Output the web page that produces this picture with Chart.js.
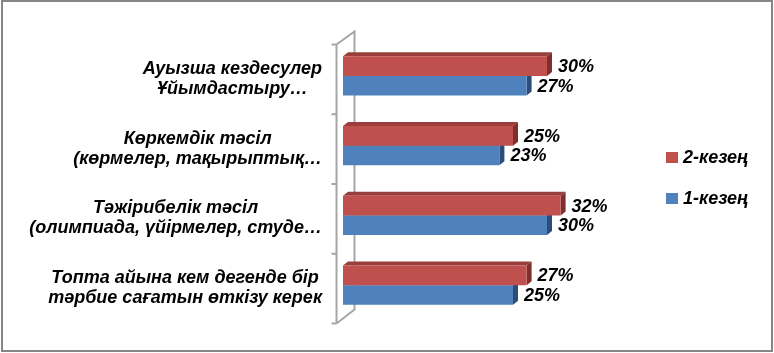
<!DOCTYPE html>
<html lang="kk">
<head>
<meta charset="utf-8">
<title>Тәрбие жұмысының әдістері</title>
<script src="https://cdn.jsdelivr.net/npm/chart.js@4.4.0/dist/chart.umd.min.js"></script>
<style>
  html, body { margin: 0; padding: 0; background: #fff; }
  canvas { display: block; }
</style>
</head>
<body>
<canvas id="myChart" width="774" height="353"></canvas>
<script>
// categories, top to bottom (each label already wrapped into two lines)
const categories = [
  ['Ауызша кездесулер', 'Ұйымдастыру…'],
  ['Көркемдік тәсіл', '(көрмелер, тақырыптық…'],
  ['Тәжірибелік тәсіл', '(олимпиада, үйірмелер, студе…'],
  ['Топта айына кем дегенде бір', 'тәрбие сағатын өткізу керек']
];
const seriesNames = ['2-кезең', '1-кезең'];
const stage2 = [30, 25, 32, 27];
const stage1 = [27, 23, 30, 25];

const FONT = 'bold italic 18px "Liberation Sans", Arial, sans-serif';
const faces = [
  { front: '#C0504D', top: '#9A3E3B', side: '#7F302E' },
  { front: '#4F81BD', top: '#3C6698', side: '#2C4D75' }
];
const DX = 5, DY = 4;

// 3d wall, bar depth, labels and legend
const excelLook = {
  id: 'excelLook',
  beforeDatasetsDraw(chart) {
    const ctx = chart.ctx;
    const y = chart.scales.y;
    const n = chart.data.labels.length;
    const step = (y.bottom - y.top) / n;
    const fx = 336.5, bx = 354.5, off = 3.5;
    ctx.save();
    ctx.strokeStyle = '#A6A6A6';
    ctx.lineWidth = 2;
    ctx.beginPath();
    ctx.moveTo(fx, y.top + off);
    ctx.lineTo(fx, y.bottom + off);
    ctx.moveTo(fx, y.top + off);
    ctx.lineTo(bx, y.top + off - 13);
    ctx.lineTo(bx, y.bottom + off - 14);
    ctx.lineTo(fx, y.bottom + off);
    for (let i = 0; i <= n; i++) {
      const ty = y.top + off + i * step;
      ctx.moveTo(fx - 5, ty);
      ctx.lineTo(fx, ty);
    }
    ctx.stroke();

    chart.data.datasets.forEach((ds, di) => {
      const meta = chart.getDatasetMeta(di);
      meta.data.forEach(el => {
        const L = el.base, R = el.x;
        const T = el.y - el.height / 2, B = el.y + el.height / 2;
        ctx.fillStyle = faces[di].top;
        ctx.beginPath();
        ctx.moveTo(L, T);
        ctx.lineTo(L + DX, T - DY);
        ctx.lineTo(R + DX, T - DY);
        ctx.lineTo(R, T);
        ctx.closePath();
        ctx.fill();
        ctx.fillStyle = faces[di].side;
        ctx.beginPath();
        ctx.moveTo(R, T);
        ctx.lineTo(R + DX, T - DY);
        ctx.lineTo(R + DX, B - DY);
        ctx.lineTo(R, B);
        ctx.closePath();
        ctx.fill();
      });
    });
    ctx.restore();
  },
  afterDatasetsDraw(chart) {
    const ctx = chart.ctx;
    ctx.save();
    ctx.font = FONT;
    ctx.fillStyle = '#000';
    ctx.textAlign = 'left';
    ctx.textBaseline = 'middle';
    chart.data.datasets.forEach((ds, di) => {
      chart.getDatasetMeta(di).data.forEach((el, i) => {
        ctx.fillText(ds.data[i] + '%', el.x + 11, el.y + 1);
      });
    });
    ctx.restore();
  },
  afterDraw(chart) {
    const ctx = chart.ctx;
    const y = chart.scales.y;
    ctx.save();
    ctx.font = FONT;
    ctx.fillStyle = '#000';
    ctx.textAlign = 'center';
    ctx.textBaseline = 'middle';
    const rightEdge = 322;
    chart.data.labels.forEach((lab, i) => {
      const cy = y.getPixelForValue(i) + 3;
      const w = Math.max(...lab.map(s => ctx.measureText(s).width));
      const cx = rightEdge - w / 2;
      lab.forEach((s, k) => {
        ctx.fillText(s, cx, cy + (k - (lab.length - 1) / 2) * 20);
      });
    });

    // legend
    ctx.textAlign = 'left';
    chart.data.datasets.forEach((ds, di) => {
      const ly = 157.5 + di * 41;
      ctx.fillStyle = ds.backgroundColor;
      ctx.fillRect(666, ly - 5.5, 12, 11);
      ctx.fillStyle = '#000';
      ctx.fillText(ds.label, 683, ly + 1);
    });

    // outer frame
    ctx.strokeStyle = '#868686';
    ctx.lineWidth = 2;
    ctx.strokeRect(2, 1, 770, 350);
    ctx.restore();
  }
};

new Chart(document.getElementById('myChart'), {
  type: 'bar',
  data: {
    labels: categories,
    datasets: [
      { label: seriesNames[0], data: stage2, backgroundColor: faces[0].front },
      { label: seriesNames[1], data: stage1, backgroundColor: faces[1].front }
    ]
  },
  options: {
    indexAxis: 'y',
    responsive: false,
    animation: false,
    layout: { padding: { left: 343, right: 159, top: 41, bottom: 33 } },
    datasets: {
      bar: { categoryPercentage: 0.56, barPercentage: 1.0, borderWidth: 0 }
    },
    plugins: {
      legend: { display: false },
      tooltip: { enabled: false }
    },
    scales: {
      x: { display: false, min: 0, max: 40 },
      y: { display: false }
    }
  },
  plugins: [excelLook]
});
</script>
</body>
</html>
